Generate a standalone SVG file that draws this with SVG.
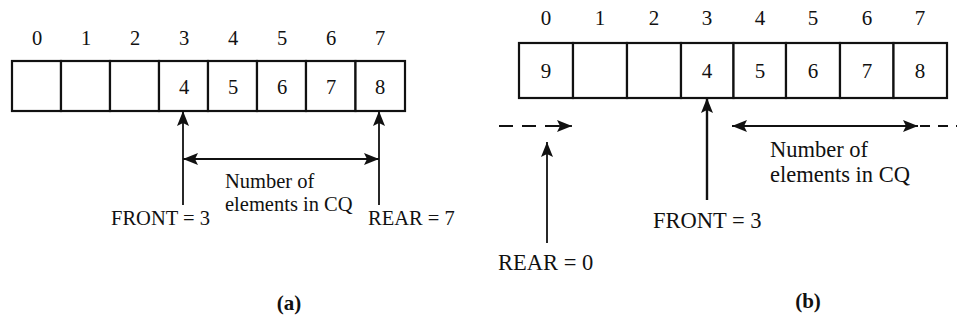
<svg xmlns="http://www.w3.org/2000/svg" width="957" height="320" viewBox="0 0 957 320">
<style>
text{font-family:"Liberation Serif","Times New Roman",serif;fill:#111}
.a{font-size:20.5px}
.b{font-size:22.5px}
.ctr{text-anchor:middle}
.cell{fill:#fff;stroke:#111;stroke-width:2.2}
.ln{stroke:#111;stroke-width:1.8;fill:none}
.lnb{stroke:#111;stroke-width:2.4;fill:none}
.dash{stroke:#111;stroke-width:1.8;fill:none;stroke-dasharray:14 9}
.cap{font-weight:bold;font-size:21px}
</style>
<defs>
<marker id="ah" viewBox="0 0 15 12" refX="15" refY="6" markerWidth="15" markerHeight="12" markerUnits="userSpaceOnUse" orient="auto-start-reverse">
<path d="M0,0 L15,6 L0,12 L3,6 Z" fill="#111"/>
</marker>
</defs>
<g id="array-a">
<rect class="cell" x="12" y="61" width="49" height="50"/>
<rect class="cell" x="61" y="61" width="49" height="50"/>
<rect class="cell" x="110" y="61" width="49" height="50"/>
<rect class="cell" x="159" y="61" width="49" height="50"/>
<rect class="cell" x="208" y="61" width="49" height="50"/>
<rect class="cell" x="257" y="61" width="49" height="50"/>
<rect class="cell" x="306" y="61" width="49.5" height="50"/>
<rect class="cell" x="355.5" y="61" width="49.5" height="50"/>
<g class="a ctr">
<text x="37" y="45">0</text><text x="86" y="45">1</text><text x="135" y="45">2</text><text x="184" y="45">3</text>
<text x="233" y="45">4</text><text x="282" y="45">5</text><text x="331" y="45">6</text><text x="380" y="45">7</text>
<text x="184" y="94">4</text><text x="233" y="94">5</text><text x="282" y="94">6</text><text x="331" y="94">7</text><text x="380" y="94">8</text>
</g>
</g>
<g id="labels-a" class="a">
<text x="111" y="225">FRONT = 3</text>
<text x="368" y="225">REAR = 7</text>
<text x="225" y="188">Number of</text>
<text x="225" y="211">elements in CQ</text>
<text class="cap ctr" x="289" y="310">(a)</text>
</g>
<g id="array-b">
<rect class="cell" x="519" y="43" width="54" height="55"/>
<rect class="cell" x="573" y="43" width="54" height="55"/>
<rect class="cell" x="627" y="43" width="54" height="55"/>
<rect class="cell" x="681" y="43" width="52.5" height="55"/>
<rect class="cell" x="733.5" y="43" width="52.5" height="55"/>
<rect class="cell" x="786" y="43" width="54" height="55"/>
<rect class="cell" x="840" y="43" width="53.5" height="55"/>
<rect class="cell" x="893.5" y="43" width="53.5" height="55"/>
<g class="a ctr" style="font-size:21px">
<text x="546" y="25">0</text><text x="600" y="25">1</text><text x="654" y="25">2</text><text x="707" y="25">3</text>
<text x="760" y="25">4</text><text x="813" y="25">5</text><text x="867" y="25">6</text><text x="920" y="25">7</text>
<text x="546" y="78">9</text><text x="707" y="78">4</text><text x="760" y="78">5</text><text x="813" y="78">6</text><text x="867" y="78">7</text><text x="920" y="78">8</text>
</g>
</g>
<g id="labels-b" class="b">
<text x="653" y="228">FRONT = 3</text>
<text x="498" y="270">REAR = 0</text>
<text x="770" y="157">Number of</text>
<text x="770" y="182">elements in CQ</text>
<text class="cap ctr" x="808" y="308">(b)</text>
</g>
<g id="connectors">
<line class="ln" x1="183" y1="205" x2="183" y2="111" marker-end="url(#ah)"/>
<line class="ln" x1="379" y1="205" x2="379" y2="111" marker-end="url(#ah)"/>
<line class="ln" x1="183" y1="159" x2="379" y2="159" marker-start="url(#ah)" marker-end="url(#ah)"/>
<line class="lnb" x1="707" y1="200" x2="707" y2="98" marker-end="url(#ah)"/>
<line class="ln" x1="547" y1="243" x2="547" y2="142" marker-end="url(#ah)"/>
<line class="dash" x1="499" y1="126" x2="560" y2="126"/>
<line class="ln" x1="556" y1="126" x2="572" y2="126" marker-end="url(#ah)"/>
<line class="ln" x1="732" y1="126" x2="918" y2="126" marker-start="url(#ah)" marker-end="url(#ah)"/>
<line class="ln" x1="920" y1="126" x2="957" y2="126" style="stroke-dasharray:10 8"/>
</g>
</svg>
